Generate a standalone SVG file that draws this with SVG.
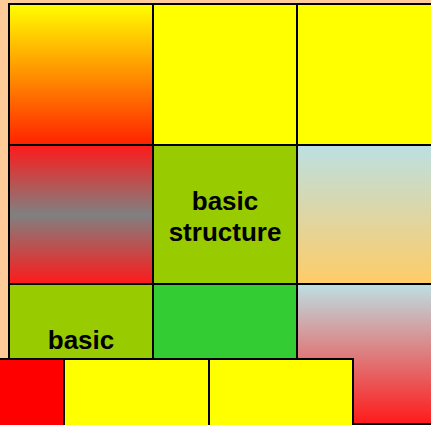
<svg xmlns="http://www.w3.org/2000/svg" width="431" height="425" viewBox="0 0 431 425">
<defs>
<linearGradient id="gYR" x1="0" y1="0" x2="0" y2="1"><stop offset="0" stop-color="#FFFF00"/><stop offset="1" stop-color="#FF2200"/></linearGradient>
<linearGradient id="gRGR" x1="0" y1="0" x2="0" y2="1"><stop offset="0" stop-color="#FF1A1A"/><stop offset="0.5" stop-color="#808080"/><stop offset="1" stop-color="#FF1A1A"/></linearGradient>
<linearGradient id="gBO" x1="0" y1="0" x2="0" y2="1"><stop offset="0" stop-color="#BCE0E3"/><stop offset="1" stop-color="#FFCC66"/></linearGradient>
<linearGradient id="gBR" x1="0" y1="0" x2="0" y2="1"><stop offset="0" stop-color="#BCE0E3"/><stop offset="1" stop-color="#FF1A1A"/></linearGradient>
</defs>
<style>
.cell{stroke:#000;stroke-width:2}
.t{font-family:"Liberation Sans",Arial,sans-serif;font-weight:bold;font-size:26px;fill:#000;text-anchor:middle}
</style>
<rect x="0" y="0" width="431" height="425" fill="#FFCC99"/>
<g id="c00"><rect class="cell" x="9" y="4" width="144" height="141" fill="url(#gYR)"/></g>
<g id="c10"><rect class="cell" x="153" y="4" width="144" height="141" fill="#FFFF00"/></g>
<g id="c20"><rect class="cell" x="297" y="4" width="144" height="141" fill="#FFFF00"/></g>
<g id="c01"><rect class="cell" x="9" y="145" width="144" height="139" fill="url(#gRGR)"/></g>
<g id="c11"><rect class="cell" x="153" y="145" width="144" height="139" fill="#99CC00"/>
<text class="t" x="225" y="210">basic</text><text class="t" x="225" y="241">structure</text></g>
<g id="c21"><rect class="cell" x="297" y="145" width="144" height="139" fill="url(#gBO)"/></g>
<g id="c02"><rect class="cell" x="9" y="284" width="144" height="140" fill="#99CC00"/>
<text class="t" x="81" y="349">basic</text></g>
<g id="c12"><rect class="cell" x="153" y="284" width="144" height="140" fill="#33CC33"/></g>
<g id="c22"><rect class="cell" x="297" y="284" width="144" height="140" fill="url(#gBR)"/></g>
<g id="o0"><rect class="cell" x="-80" y="359" width="144" height="80" fill="#FF0000"/></g>
<g id="o1"><rect class="cell" x="64" y="359" width="145" height="80" fill="#FFFF00"/></g>
<g id="o2"><rect class="cell" x="209" y="359" width="144" height="80" fill="#FFFF00"/></g>
<g id="connectors"></g>
</svg>
